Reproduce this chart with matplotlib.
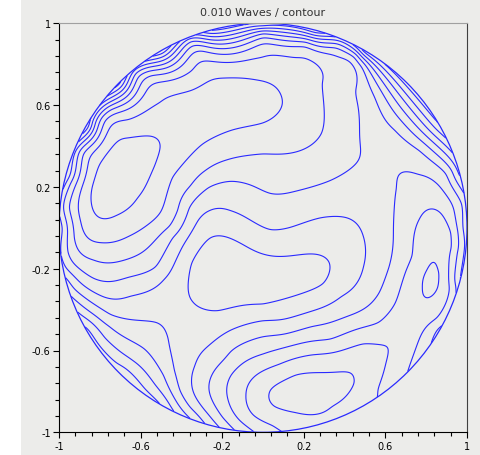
import numpy as np
import matplotlib
matplotlib.use('Agg')
import matplotlib.pyplot as plt
from matplotlib.patches import Rectangle, Circle

step = 0.010  # waves per contour

# points, grouped by contour level (in contour steps)
lvl_p4 = [(-0.83, 0.08), (-0.84, 0.20), (-0.78, 0.33), (-0.66, 0.43), (-0.55, 0.45), (-0.50, 0.40),
          (-0.53, 0.30), (-0.62, 0.15), (-0.72, 0.065),
          (0.03, -0.79), (0.16, -0.715), (0.44, -0.705), (0.46, -0.76), (0.33, -0.86), (0.16, -0.90), (0.05, -0.88)]
lvl_p3 = [(-0.89, 0.0), (-0.79, -0.07), (-0.66, -0.04), (-0.50, 0.075), (-0.45, 0.25), (-0.30, 0.41), (-0.15, 0.48),
          (0.0, 0.51), (0.06, 0.55), (0.10, 0.61), (0.06, 0.69), (0.0, 0.72), (-0.19, 0.73), (-0.35, 0.67),
          (-0.50, 0.60), (-0.66, 0.52), (-0.80, 0.40), (-0.86, 0.29), (-0.90, 0.11),
          (0.54, -0.79), (0.60, -0.66), (0.67, -0.53), (0.49, -0.56), (0.24, -0.62), (0.08, -0.67), (0.0, -0.70),
          (-0.08, -0.82), (-0.05, -0.92), (0.05, -0.96),
          (0.855, -0.17), (0.875, -0.22), (0.86, -0.29), (0.815, -0.34), (0.79, -0.29), (0.81, -0.21)]
lvl_p2 = [(-0.96, 0.10), (-0.93, -0.05), (-0.83, -0.15), (-0.73, -0.17), (-0.58, -0.11), (-0.45, 0.0), (-0.41, 0.085),
          (-0.35, 0.20), (-0.28, 0.28), (-0.18, 0.33), (0.0, 0.365), (0.19, 0.38), (0.29, 0.46), (0.30, 0.55),
          (0.26, 0.71), (0.16, 0.80), (0.0, 0.81), (-0.10, 0.815), (-0.34, 0.76), (-0.58, 0.65), (-0.78, 0.53),
          (-0.89, 0.37),
          (0.935, -0.10), (0.93, -0.02), (0.87, 0.075), (0.82, 0.09), (0.77, 0.04), (0.74, -0.14), (0.70, -0.21),
          (0.65, -0.37), (0.57, -0.47), (0.33, -0.55), (0.0, -0.62), (-0.08, -0.65), (-0.16, -0.72),
          (-0.17, -0.84), (-0.12, -0.94), (0.92, -0.30), (0.86, -0.45)]
lvl_p1 = [(-0.96, -0.12), (-0.83, -0.25), (-0.66, -0.24), (-0.52, -0.20), (-0.45, -0.04), (-0.37, 0.10),
          (-0.27, 0.20), (-0.16, 0.23), (-0.06, 0.21), (0.035, 0.165), (0.16, 0.18), (0.33, 0.23), (0.44, 0.30),
          (0.48, 0.38), (0.47, 0.545), (0.43, 0.675), (0.36, 0.81), (0.21, 0.90), (0.0, 0.90), (-0.30, 0.87),
          (-0.55, 0.75), (-0.75, 0.58), (-0.88, 0.40), (-0.95, 0.22),
          (0.95, -0.28), (0.945, -0.12), (0.94, 0.06), (0.84, 0.22), (0.76, 0.25), (0.66, 0.19), (0.64, -0.055),
          (0.62, -0.19), (0.57, -0.32), (0.45, -0.42), (0.24, -0.48), (0.0, -0.53), (-0.16, -0.60),
          (-0.24, -0.70), (-0.25, -0.84), (-0.20, -0.93)]
lvl_0 = [(-0.97, -0.20), (-0.78, -0.34), (-0.65, -0.33), (-0.49, -0.25), (-0.40, -0.10), (-0.32, 0.04),
         (-0.26, 0.08), (-0.16, 0.08), (0.035, -0.015), (0.13, 0.0), (0.28, 0.05), (0.41, 0.05), (0.49, -0.04),
         (0.49, -0.19), (0.38, -0.33), (0.20, -0.42), (0.0, -0.45), (-0.16, -0.50), (-0.27, -0.58),
         (-0.33, -0.68), (-0.34, -0.81), (-0.29, -0.89),
         (0.98, 0.12), (0.91, 0.27), (0.77, 0.38), (0.65, 0.48), (0.55, 0.64), (0.49, 0.79), (0.36, 0.89),
         (0.0, 0.945), (-0.35, 0.905), (-0.62, 0.75), (-0.83, 0.52), (-0.94, 0.28)]
lvl_m1 = [(-0.26, -0.045), (-0.355, -0.17), (-0.34, -0.36), (-0.22, -0.41), (0.0, -0.38), (0.30, -0.28),
          (0.33, -0.17), (0.28, -0.135), (0.07, -0.14), (-0.10, -0.08),
          (-0.93, -0.30), (-0.75, -0.43), (-0.52, -0.46), (-0.46, -0.54), (-0.44, -0.70), (-0.41, -0.80),
          (-0.36, -0.88)]
lvl_m2 = [(-0.91, -0.36), (-0.75, -0.48), (-0.58, -0.59), (-0.48, -0.72), (-0.42, -0.86)]
lvl_m3 = [(-0.89, -0.43), (-0.78, -0.54), (-0.64, -0.65), (-0.53, -0.77), (-0.46, -0.86)]
lvl_m4 = [(-0.86, -0.50), (-0.72, -0.67), (-0.58, -0.79), (-0.50, -0.86)]

# local extrema, saddles and the flat band between levels 0 and 1
spot_x = [-0.68, -0.35, -0.10, -0.10, 0.15, 0.25, 0.83, 0.72, -0.40, -0.66, -0.43, -0.30, 0.0, 0.30, 0.56,
          0.56, 0.45, 0.10, -0.21, 0.55, 0.45]
spot_y = [0.26, 0.55, 0.62, -0.25, -0.25, -0.80, -0.255, -0.45, -0.55, -0.285, -0.10, 0.13, 0.08, 0.13, 0.10,
          -0.20, -0.37, -0.49, -0.62, 0.45, 0.84]
spot_lvl = [4.6, 3.6, 3.4, -1.5, -1.35, 4.4, 3.25, 2.7, -0.5, 0.5, 0.5, 0.5, 0.5, 0.5, 0.5,
            0.5, 0.5, 0.5, 0.5, 0.5, 0.5]

# value on the pupil edge, by angle
rim_deg = [0, 15, 30, 45, 60, 75, 90, 105, 120, 135, 150, 165, 180, 195, 210, 225, 240, 250, 258, 265, 275,
           290, 305, 315, 330, 345]
rim_lvl = [-1.0, -2.5, -5.0, -5.5, -5.5, -5.5, -5.5, -5.5, -5.5, -5.0, -4.0, -1.5, -1.0, -1.5, -4.5, -5.0,
           -4.0, -2.0, 0.0, 1.5, 3.0, 3.8, 3.0, 2.0, 0.5, -0.5]

px, py, pv = [], [], []
for lv, pts in [(4, lvl_p4), (3, lvl_p3), (2, lvl_p2), (1, lvl_p1), (0, lvl_0),
                (-1, lvl_m1), (-2, lvl_m2), (-3, lvl_m3), (-4, lvl_m4)]:
    for x, y in pts:
        px.append(x)
        py.append(y)
        pv.append(lv)
px += spot_x
py += spot_y
pv += spot_lvl
ang = np.radians(rim_deg)
px += list(np.cos(ang))
py += list(np.sin(ang))
pv += rim_lvl
px, py, pv = np.array(px), np.array(py), np.array(pv, dtype=float)


def tps_kernel(d):
    with np.errstate(divide='ignore', invalid='ignore'):
        k = d ** 2 * np.log(d)
    return np.nan_to_num(k)


# smoothed thin plate spline surface through the samples
n = len(px)
K = tps_kernel(np.hypot(px[:, None] - px[None, :], py[:, None] - py[None, :]))
P = np.column_stack([np.ones(n), px, py])
M = np.zeros((n + 3, n + 3))
M[:n, :n] = K + 5e-3 * np.eye(n)
M[:n, n:] = P
M[n:, :n] = P.T
sol = np.linalg.solve(M, np.concatenate([pv, np.zeros(3)]))
wts, aff = sol[:n], sol[n:]

g = np.linspace(-1, 1, 501)
X, Y = np.meshgrid(g, g)
W = aff[0] + aff[1] * X + aff[2] * Y
for i in range(n):
    W = W + wts[i] * tps_kernel(np.hypot(X - px[i], Y - py[i]))
W = np.ma.masked_where(np.hypot(X, Y) > 1.0, W * step)

fig = plt.figure(figsize=(4.81, 4.56), dpi=100)
fig.patches.append(Rectangle((21 / 481, 0), 460 / 481, 455 / 456, transform=fig.transFigure,
                             facecolor='#ececea', edgecolor='none', zorder=-1))
ax = fig.add_axes([59 / 481, 22.7 / 456, 408 / 481, 409 / 456])
ax.set_facecolor('#ececea')

ax.contour(X, Y, W, levels=np.arange(-8, 7) * step, colors='#2a2aff', linewidths=0.8, linestyles='solid')
ax.add_patch(Circle((0, 0), 1.0, fill=False, edgecolor='#2a2aff', linewidth=0.9))

ax.set_xlim(-1, 1)
ax.set_ylim(-1, 1)
ticks = [-1, -0.6, -0.2, 0.2, 0.6, 1]
labels = ['-1', '-0.6', '-0.2', '0.2', '0.6', '1']
ax.set_xticks(ticks)
ax.set_xticklabels(labels)
ax.set_yticks(ticks)
ax.set_yticklabels(labels)
ax.set_xticks(np.arange(-1, 1.001, 0.08), minor=True)
ax.set_yticks(np.arange(-1, 1.001, 0.08), minor=True)
ax.tick_params(which='major', direction='out', length=4, width=0.8, labelsize=7, pad=2)
ax.tick_params(which='minor', direction='out', length=3, width=0.8)
ax.spines['top'].set_color('#a0a0a0')
ax.spines['right'].set_color('#404040')
ax.set_title('0.010 Waves / contour', fontsize=8, pad=6, color='#333333')

fig.savefig('out.png', dpi=100)
